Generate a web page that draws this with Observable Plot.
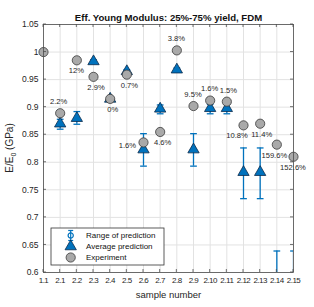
<!DOCTYPE html>
<html><head><meta charset="utf-8">
<script src="https://cdn.jsdelivr.net/npm/d3@7"></script>
<script src="https://cdn.jsdelivr.net/npm/@observablehq/plot@0.6"></script>
<style>
body{margin:0;background:#fff}
svg{font-family:"Liberation Sans",Arial,Helvetica,sans-serif}
</style>
</head><body><div id="chart"></div>
<script>
const samples = ["1.1","2.1","2.2","2.3","2.4","2.5","2.6","2.7","2.8","2.9","2.10","2.11","2.12","2.13","2.14","2.15"];
const experiment = [1.000,0.889,0.985,0.955,0.915,0.959,0.836,0.855,1.003,0.902,0.912,0.910,0.867,0.870,0.832,0.810];
const avgPrediction = [null,0.870,0.880,0.983,0.915,0.965,0.823,0.897,0.968,0.823,0.898,0.898,0.782,0.782,0.320,0.320];
const rangeLow  = [null,0.860,0.869,0.980,0.912,0.962,0.793,0.888,0.965,0.793,0.888,0.888,0.734,0.734,0.000,0.000];
const rangeHigh = [null,0.878,0.892,0.986,0.918,0.968,0.852,0.904,0.971,0.852,0.905,0.905,0.826,0.826,0.639,0.639];
const errorLabels = [null,"2.2%","12%","2.9%","0%","0.7%","1.6%","4.6%","3.8%","9.5%","1.6%","1.5%","10.8%","11.4%","159.6%","152.6%"];
const yTicks = [0.6,0.65,0.7,0.75,0.8,0.85,0.9,0.95,1,1.05];
const titleText = "Eff. Young Modulus: 25%-75% yield, FDM";
const xLabel = "sample number";
const legendLabels = ["Range of prediction","Average prediction","Experiment"];

// label placement (layout only)
const placeAbove = new Set(["2.1","2.8","2.9","2.10","2.11"]);
const placeLeft = new Set(["2.6"]);
const nudge = {"2.1": -1, "2.3": 3, "2.4": 3, "2.5": 3, "2.7": 3, "2.11": 2, "2.12": -6, "2.13": 2, "2.14": -2};

const rows = samples.map((s,i)=>({i, s, exp: experiment[i], avg: avgPrediction[i], lo: rangeLow[i], hi: rangeHigh[i], lab: errorLabels[i]}));
const pred = rows.filter(d=>d.avg!=null);
const labs = rows.filter(d=>d.lab!=null);

const BLUE = "#0072BD";
const capSymbol = {draw(ctx, size){ const w = Math.sqrt(size)/2; ctx.moveTo(-w,0); ctx.lineTo(w,0); }};

const plot = Plot.plot({
  width: 314, height: 307,
  marginLeft: 43, marginRight: 21, marginTop: 24, marginBottom: 35,
  style: {fontFamily: '"Liberation Sans",Arial,Helvetica,sans-serif', color: "#262626", background: "#fff"},
  x: {type: "linear", domain: [0, samples.length-1]},
  y: {domain: [0.6, 1.05]},
  marks: [
    Plot.gridX(d3.range(samples.length), {stroke: "#e2e2e2", strokeOpacity: 1}),
    Plot.gridY(yTicks, {stroke: "#e2e2e2", strokeOpacity: 1}),
    Plot.axisY({ticks: yTicks, tickSize: 0, tickPadding: 5, fontSize: 8.5, tickFormat: d3.format(""), label: null}),
    Plot.axisX({ticks: d3.range(samples.length), tickSize: 0, tickPadding: 5, fontSize: 8, tickFormat: i => samples[i], label: null}),
    Plot.ruleX(pred, {x: "i", y1: "lo", y2: "hi", stroke: BLUE, strokeWidth: 1.3, clip: true}),
    Plot.dot(pred, {x: "i", y: "lo", symbol: capSymbol, r: 3.8, stroke: BLUE, fill: "none", strokeWidth: 1.3, clip: true}),
    Plot.dot(pred, {x: "i", y: "hi", symbol: capSymbol, r: 3.8, stroke: BLUE, fill: "none", strokeWidth: 1.3, clip: true}),
    Plot.dot(pred, {x: "i", y: "avg", symbol: "triangle", r: 4.2, fill: BLUE, stroke: "#0b2a4a", strokeWidth: 0.8, clip: true}),
    Plot.dot(rows, {x: "i", y: "exp", r: 4.6, fill: "#a9a9a9", stroke: "#3a3a3a", strokeWidth: 0.8}),
    Plot.frame({stroke: "#4d4d4d", strokeWidth: 0.8}),
    Plot.text([titleText], {frameAnchor: "top", dy: -10, fontWeight: "bold", fontSize: 9.6, fill: "#111"}),
    Plot.text([xLabel], {frameAnchor: "bottom", dy: 25, fontSize: 9.5, fill: "#262626"})
  ]
});

const svg = d3.select(plot);
const xs = plot.scale("x"), ys = plot.scale("y");
const x0 = xs.apply(0), x1 = xs.apply(samples.length-1);
const yb = ys.apply(0.6), yt = ys.apply(1.05);
const tl = 3;
const tg = svg.append("g").attr("stroke", "#4d4d4d").attr("stroke-width", 0.8);
d3.range(samples.length).forEach(i => {
  const x = xs.apply(i);
  tg.append("line").attr("x1", x).attr("x2", x).attr("y1", yb).attr("y2", yb - tl);
  tg.append("line").attr("x1", x).attr("x2", x).attr("y1", yt).attr("y2", yt + tl);
});
yTicks.forEach(v => {
  const y = ys.apply(v);
  tg.append("line").attr("x1", x0).attr("x2", x0 + tl).attr("y1", y).attr("y2", y);
  tg.append("line").attr("x1", x1).attr("x2", x1 - tl).attr("y1", y).attr("y2", y);
});
svg.selectAll('g[aria-label="x-axis tick label"] text').attr("letter-spacing", "-0.5");

// percentage labels
const lt = svg.append("g").attr("font-size", 7.6).attr("fill", "#262626");
labs.forEach(d => {
  const cx = xs.apply(d.i) + (nudge[d.s] || 0), cy = ys.apply(d.exp);
  const t = lt.append("text").text(d.lab);
  if (placeLeft.has(d.s)) t.attr("x", cx - 7).attr("y", cy + 4).attr("text-anchor", "end").attr("dy", "0.32em");
  else if (placeAbove.has(d.s)) t.attr("x", cx).attr("y", cy - 11).attr("text-anchor", "middle").attr("dy", "0.32em");
  else t.attr("x", cx).attr("y", cy + 11).attr("text-anchor", "middle").attr("dy", "0.32em");
});

// y label with subscript
const yl = svg.append("text")
  .attr("transform", `translate(13,${(yb+yt)/2}) rotate(-90)`)
  .attr("text-anchor", "middle").attr("font-size", 10).attr("fill", "#262626");
yl.append("tspan").text("E/E");
yl.append("tspan").attr("font-size", 7).attr("dy", 3).text("0");
yl.append("tspan").attr("dy", -3).text(" (GPa)");

// legend
const lg = svg.append("g").attr("transform", "translate(51,228)");
lg.append("rect").attr("width", 113).attr("height", 37).attr("fill", "#fff").attr("stroke", "#333").attr("stroke-width", 0.8);
const sx = 19.7, rowsY = [7.5, 18.5, 29.5];
const e = lg.append("g").attr("transform", `translate(${sx},${rowsY[0]})`).attr("stroke", BLUE).attr("stroke-width", 1.2).attr("fill", "none");
e.append("line").attr("x1", 0).attr("x2", 0).attr("y1", -5).attr("y2", 5);
e.append("line").attr("x1", -2.5).attr("x2", 2.5).attr("y1", -5).attr("y2", -5);
e.append("line").attr("x1", -2.5).attr("x2", 2.5).attr("y1", 5).attr("y2", 5);
e.append("circle").attr("r", 2.6);
lg.append("path").attr("d", d3.symbol(d3.symbolTriangle, Math.PI*4.2*4.2)()).attr("transform", `translate(${sx},${rowsY[1]})`)
  .attr("fill", BLUE).attr("stroke", "#0b2a4a").attr("stroke-width", 0.8);
lg.append("circle").attr("cx", sx).attr("cy", rowsY[2]).attr("r", 4.6).attr("fill", "#a9a9a9").attr("stroke", "#3a3a3a").attr("stroke-width", 0.8);
legendLabels.forEach((t, k) => {
  lg.append("text").attr("x", 35).attr("y", rowsY[k]).attr("dy", "0.35em").attr("text-anchor", "start").attr("font-size", 8).attr("fill", "#111").text(t);
});

document.getElementById("chart").appendChild(plot);
</script>
</body></html>
